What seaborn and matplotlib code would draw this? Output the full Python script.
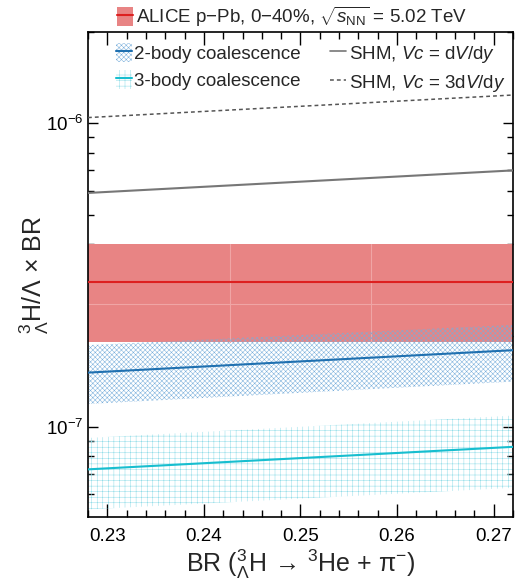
import numpy as np
import pandas as pd
import seaborn as sns
import matplotlib.pyplot as plt
from matplotlib.patches import Patch
from matplotlib.lines import Line2D
from matplotlib.ticker import LogLocator, NullFormatter, MultipleLocator, FormatStrFormatter

# values (straight lines, so the two ends are enough)
br = [0.228, 0.272]
alice_center = [3.0e-7, 3.0e-7]
alice_low = [1.9e-7, 1.9e-7]
alice_high = [4.0e-7, 4.0e-7]
alice_seams_x = [0.2427, 0.2573]
alice_seams_y = [2.55e-7]
two_body = [1.51e-7, 1.79e-7]
two_body_low = [1.19e-7, 1.41e-7]
two_body_high = [1.86e-7, 2.17e-7]
three_body = [7.25e-8, 8.6e-8]
three_body_low = [5.35e-8, 6.3e-8]
three_body_high = [9.2e-8, 1.09e-7]
shm_dv = [5.9e-7, 7.0e-7]
shm_3dv = [1.045e-6, 1.24e-6]

red = '#dd2020'
red_band = '#e88484'
blue = '#1f70b0'
cyan = '#17becf'
grey = '#777777'
two_hatch_col = '#78aedb'
three_hatch_col = '#8fdce8'

sns.set_style('ticks')
plt.rcParams['font.family'] = ['Liberation Sans', 'DejaVu Sans']
plt.rcParams['mathtext.fontset'] = 'custom'
plt.rcParams['mathtext.rm'] = 'Liberation Sans'
plt.rcParams['mathtext.it'] = 'Liberation Sans:italic'
plt.rcParams['mathtext.bf'] = 'Liberation Sans:bold'
plt.rcParams['hatch.linewidth'] = 0.35

lines = pd.DataFrame({
    'br': br * 4,
    'value': two_body + three_body + shm_dv + shm_3dv,
    'model': ['2body'] * 2 + ['3body'] * 2 + ['shm'] * 2 + ['shm3'] * 2,
})

fig = plt.figure(figsize=(5.31, 5.86), dpi=100)
ax = fig.add_axes([0.1657, 0.1177, 0.8003, 0.8277])

# ALICE band
ax.fill_between(br, alice_low, alice_high, color=red_band, lw=0, zorder=1)
for xs in alice_seams_x:
    ax.plot([xs, xs], [alice_low[0], alice_high[0]], color='#f0a5a5', lw=0.8, zorder=1.1)
for ys in alice_seams_y:
    ax.plot(br, [ys, ys], color='#f0a5a5', lw=0.8, zorder=1.1)

# coalescence bands
two_hatch = 'xxxxxxx'
ax.fill_between(br, two_body_low, two_body_high, facecolor='none', edgecolor=two_hatch_col,
                hatch=two_hatch, lw=0, zorder=2)
ax.fill_between(br, three_body_low, three_body_high, facecolor='none', edgecolor=three_hatch_col,
                hatch='+++', lw=0, zorder=2)

palette = {'2body': blue, '3body': cyan, 'shm': grey, 'shm3': '#555555'}
sns.lineplot(data=lines[lines['model'].isin(['2body', '3body', 'shm'])], x='br', y='value',
             hue='model', palette=palette, lw=1.5, legend=False, ax=ax, zorder=3)
sns.lineplot(data=lines[lines['model'] == 'shm3'], x='br', y='value', color='#555555',
             lw=1.1, ls=(0, (2.5, 2)), legend=False, ax=ax, zorder=3)
ax.plot(br, alice_center, color=red, lw=1.5, zorder=3)

ax.set_yscale('log')
ax.set_xlim(0.228, 0.272)
ax.set_ylim(5.05e-8, 2.0e-6)
ax.xaxis.set_major_locator(MultipleLocator(0.01))
ax.xaxis.set_minor_locator(MultipleLocator(0.002))
ax.xaxis.set_major_formatter(FormatStrFormatter('%.2f'))
ax.yaxis.set_major_locator(LogLocator(base=10))
ax.yaxis.set_minor_locator(LogLocator(base=10, subs=np.arange(2, 10)))
ax.yaxis.set_minor_formatter(NullFormatter())

ax.tick_params(which='both', direction='in', top=True, right=True, width=1.0,
               labelsize=13.5, colors='black')
ax.tick_params(axis='x', which='major', length=9.5, pad=8)
ax.tick_params(axis='x', which='minor', length=5)
ax.tick_params(axis='y', which='major', length=7.5, pad=3)
ax.tick_params(axis='y', which='minor', length=4.5)
for sp in ax.spines.values():
    sp.set_linewidth(1.2)
    sp.set_color('black')

ax.set_xlabel(r'BR ($^{3}_{\Lambda}$H $\!\rightarrow\!$ $^{3}$He + π$^{-}$)', fontsize=18, labelpad=2)
ax.set_ylabel(r'$^{3}_{\Lambda}$H/$\Lambda$ $\times$ BR', fontsize=18, labelpad=-3)

# legends
h_alice = (Patch(facecolor=red_band, lw=0), Line2D([], [], color=red, lw=1.5))
fig.legend([h_alice], [r'ALICE p$-$Pb, 0$-$40%, $\sqrt{s_{\rm NN}}$ = 5.02 TeV'],
           loc='center left', bbox_to_anchor=(0.22, 0.971), frameon=False, fontsize=13.5,
           handlelength=0.85, handleheight=1.2, handletextpad=0.15, borderaxespad=0, borderpad=0)

h_two = (Patch(facecolor='none', edgecolor=two_hatch_col, hatch=two_hatch, lw=0), Line2D([], [], color=blue, lw=1.5))
h_three = (Patch(facecolor='none', edgecolor=three_hatch_col, hatch='+++', lw=0), Line2D([], [], color=cyan, lw=1.5))
h_shm = Line2D([], [], color=grey, lw=1.2)
h_shm3 = Line2D([], [], color='#555555', lw=1.1, ls=(0, (2.5, 2)))
ax.legend([h_two, h_three, h_shm, h_shm3],
          ['2-body coalescence', '3-body coalescence', r'SHM, $Vc$ = d$V$/d$y$', r'SHM, $Vc$ = 3d$V$/d$y$'],
          ncol=2, loc='upper left', bbox_to_anchor=(0.065, 0.978), frameon=False, fontsize=13.5,
          handlelength=0.85, handleheight=1.2, handletextpad=0.15, columnspacing=1.55,
          labelspacing=0.4, borderaxespad=0, borderpad=0)

fig.savefig('out.png', dpi=100)
